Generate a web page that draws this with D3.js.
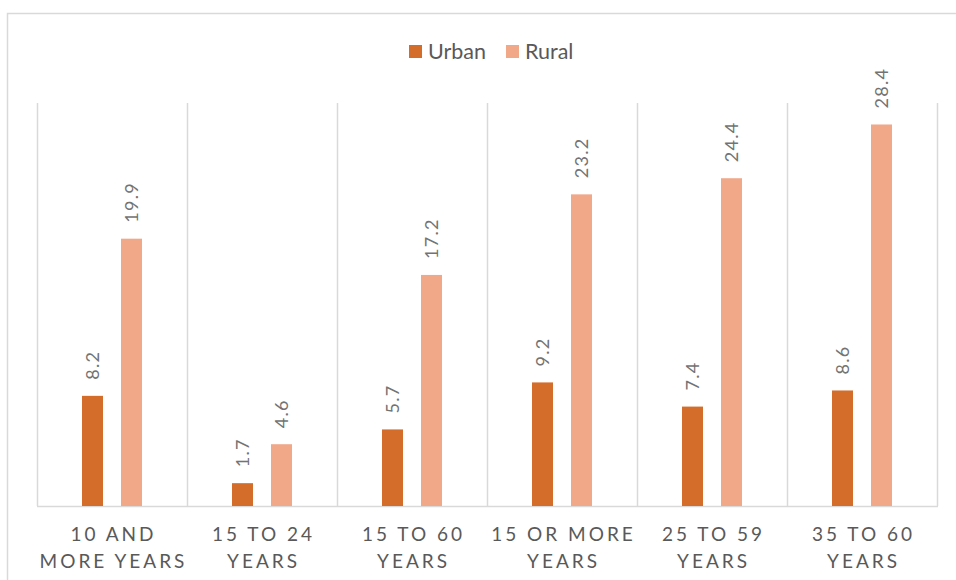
<html>
<head>
<script src="https://d3js.org/d3.v7.min.js"></script>
<style>
    body{
        margin: 0;
        background: #fff;
    }
    text{
        font-family: Lato, "Open Sans", sans-serif;
        fill: #595959;
    }
    .val{
        fill: #737373;
    }
</style>
</head>
<body>
<svg id="chart" width="956" height="580"></svg>
<script>
    var categories = [["10 AND", "MORE YEARS"], ["15 TO 24", "YEARS"], ["15 TO 60", "YEARS"],
                      ["15 OR MORE", "YEARS"], ["25 TO 59", "YEARS"], ["35 TO 60", "YEARS"]];
    var seriesNames = ["Urban", "Rural"];
    var urban = [8.2, 1.7, 5.7, 9.2, 7.4, 8.6];
    var rural = [19.9, 4.6, 17.2, 23.2, 24.4, 28.4];
    var colors = ["#d46d2a", "#f0a889"];

    var svg = d3.select("#chart");
    var plotLeft = 37, plotRight = 937, plotTop = 103, plotBottom = 506;

    // frame of the chart area
    svg.append("path")
        .attr("d", "M7.5,580V13.5H956")
        .attr("fill", "none")
        .attr("stroke", "#d9d9d9")
        .attr("stroke-width", 1.5);

    var x0 = d3.scaleBand().domain(d3.range(categories.length)).range([plotLeft, plotRight]);
    var x1 = d3.scaleBand().domain(seriesNames).range([45, 105]).paddingInner(0.4615);
    var y = d3.scaleLinear().domain([0, 30]).range([plotBottom, plotTop]);

    // vertical separators
    svg.selectAll(".sep").data(d3.range(categories.length + 1)).enter()
        .append("line")
        .attr("x1", function(d){ return Math.round(plotLeft + d * x0.step()) + 0.5; })
        .attr("x2", function(d){ return Math.round(plotLeft + d * x0.step()) + 0.5; })
        .attr("y1", plotTop)
        .attr("y2", plotBottom)
        .attr("stroke", "#d9d9d9")
        .attr("stroke-width", 1.5);

    svg.append("line")
        .attr("x1", plotLeft).attr("x2", plotRight + 1)
        .attr("y1", plotBottom + 0.5).attr("y2", plotBottom + 0.5)
        .attr("stroke", "#d9d9d9")
        .attr("stroke-width", 1.5);

    var series = [urban, rural];
    series.forEach(function(vals, s){
        var g = svg.append("g");
        g.selectAll("rect").data(vals).enter()
            .append("rect")
            .attr("x", function(d, i){ return x0(i) + x1(seriesNames[s]); })
            .attr("y", function(d){ return y(d); })
            .attr("width", x1.bandwidth())
            .attr("height", function(d){ return plotBottom - y(d); })
            .attr("fill", colors[s]);
        g.selectAll("text").data(vals).enter()
            .append("text")
            .attr("class", "val")
            .attr("transform", function(d, i){
                var cx = x0(i) + x1(seriesNames[s]) + x1.bandwidth() / 2;
                return "translate(" + cx + "," + (y(d) - 16) + ") rotate(-90)";
            })
            .attr("dy", "0.35em")
            .attr("font-size", 18)
            .attr("letter-spacing", 1.3)
            .text(function(d){ return d.toFixed(1); });
    });

    // category labels
    var xl = svg.append("g");
    categories.forEach(function(lines, i){
        lines.forEach(function(t, k){
            xl.append("text")
                .attr("x", x0(i) + x0.bandwidth() / 2 + 1.5)
                .attr("y", 541 + k * 27)
                .attr("text-anchor", "middle")
                .attr("font-size", 19)
                .attr("letter-spacing", 3)
                .text(t);
        });
    });

    // legend
    var legendX = [409, 506];
    seriesNames.forEach(function(n, i){
        svg.append("rect")
            .attr("x", legendX[i]).attr("y", 45)
            .attr("width", 13).attr("height", 13)
            .attr("fill", colors[i]);
        svg.append("text")
            .attr("x", legendX[i] + 19).attr("y", 59)
            .attr("font-size", 21.5)
            .text(n);
    });
</script>
</body>
</html>
